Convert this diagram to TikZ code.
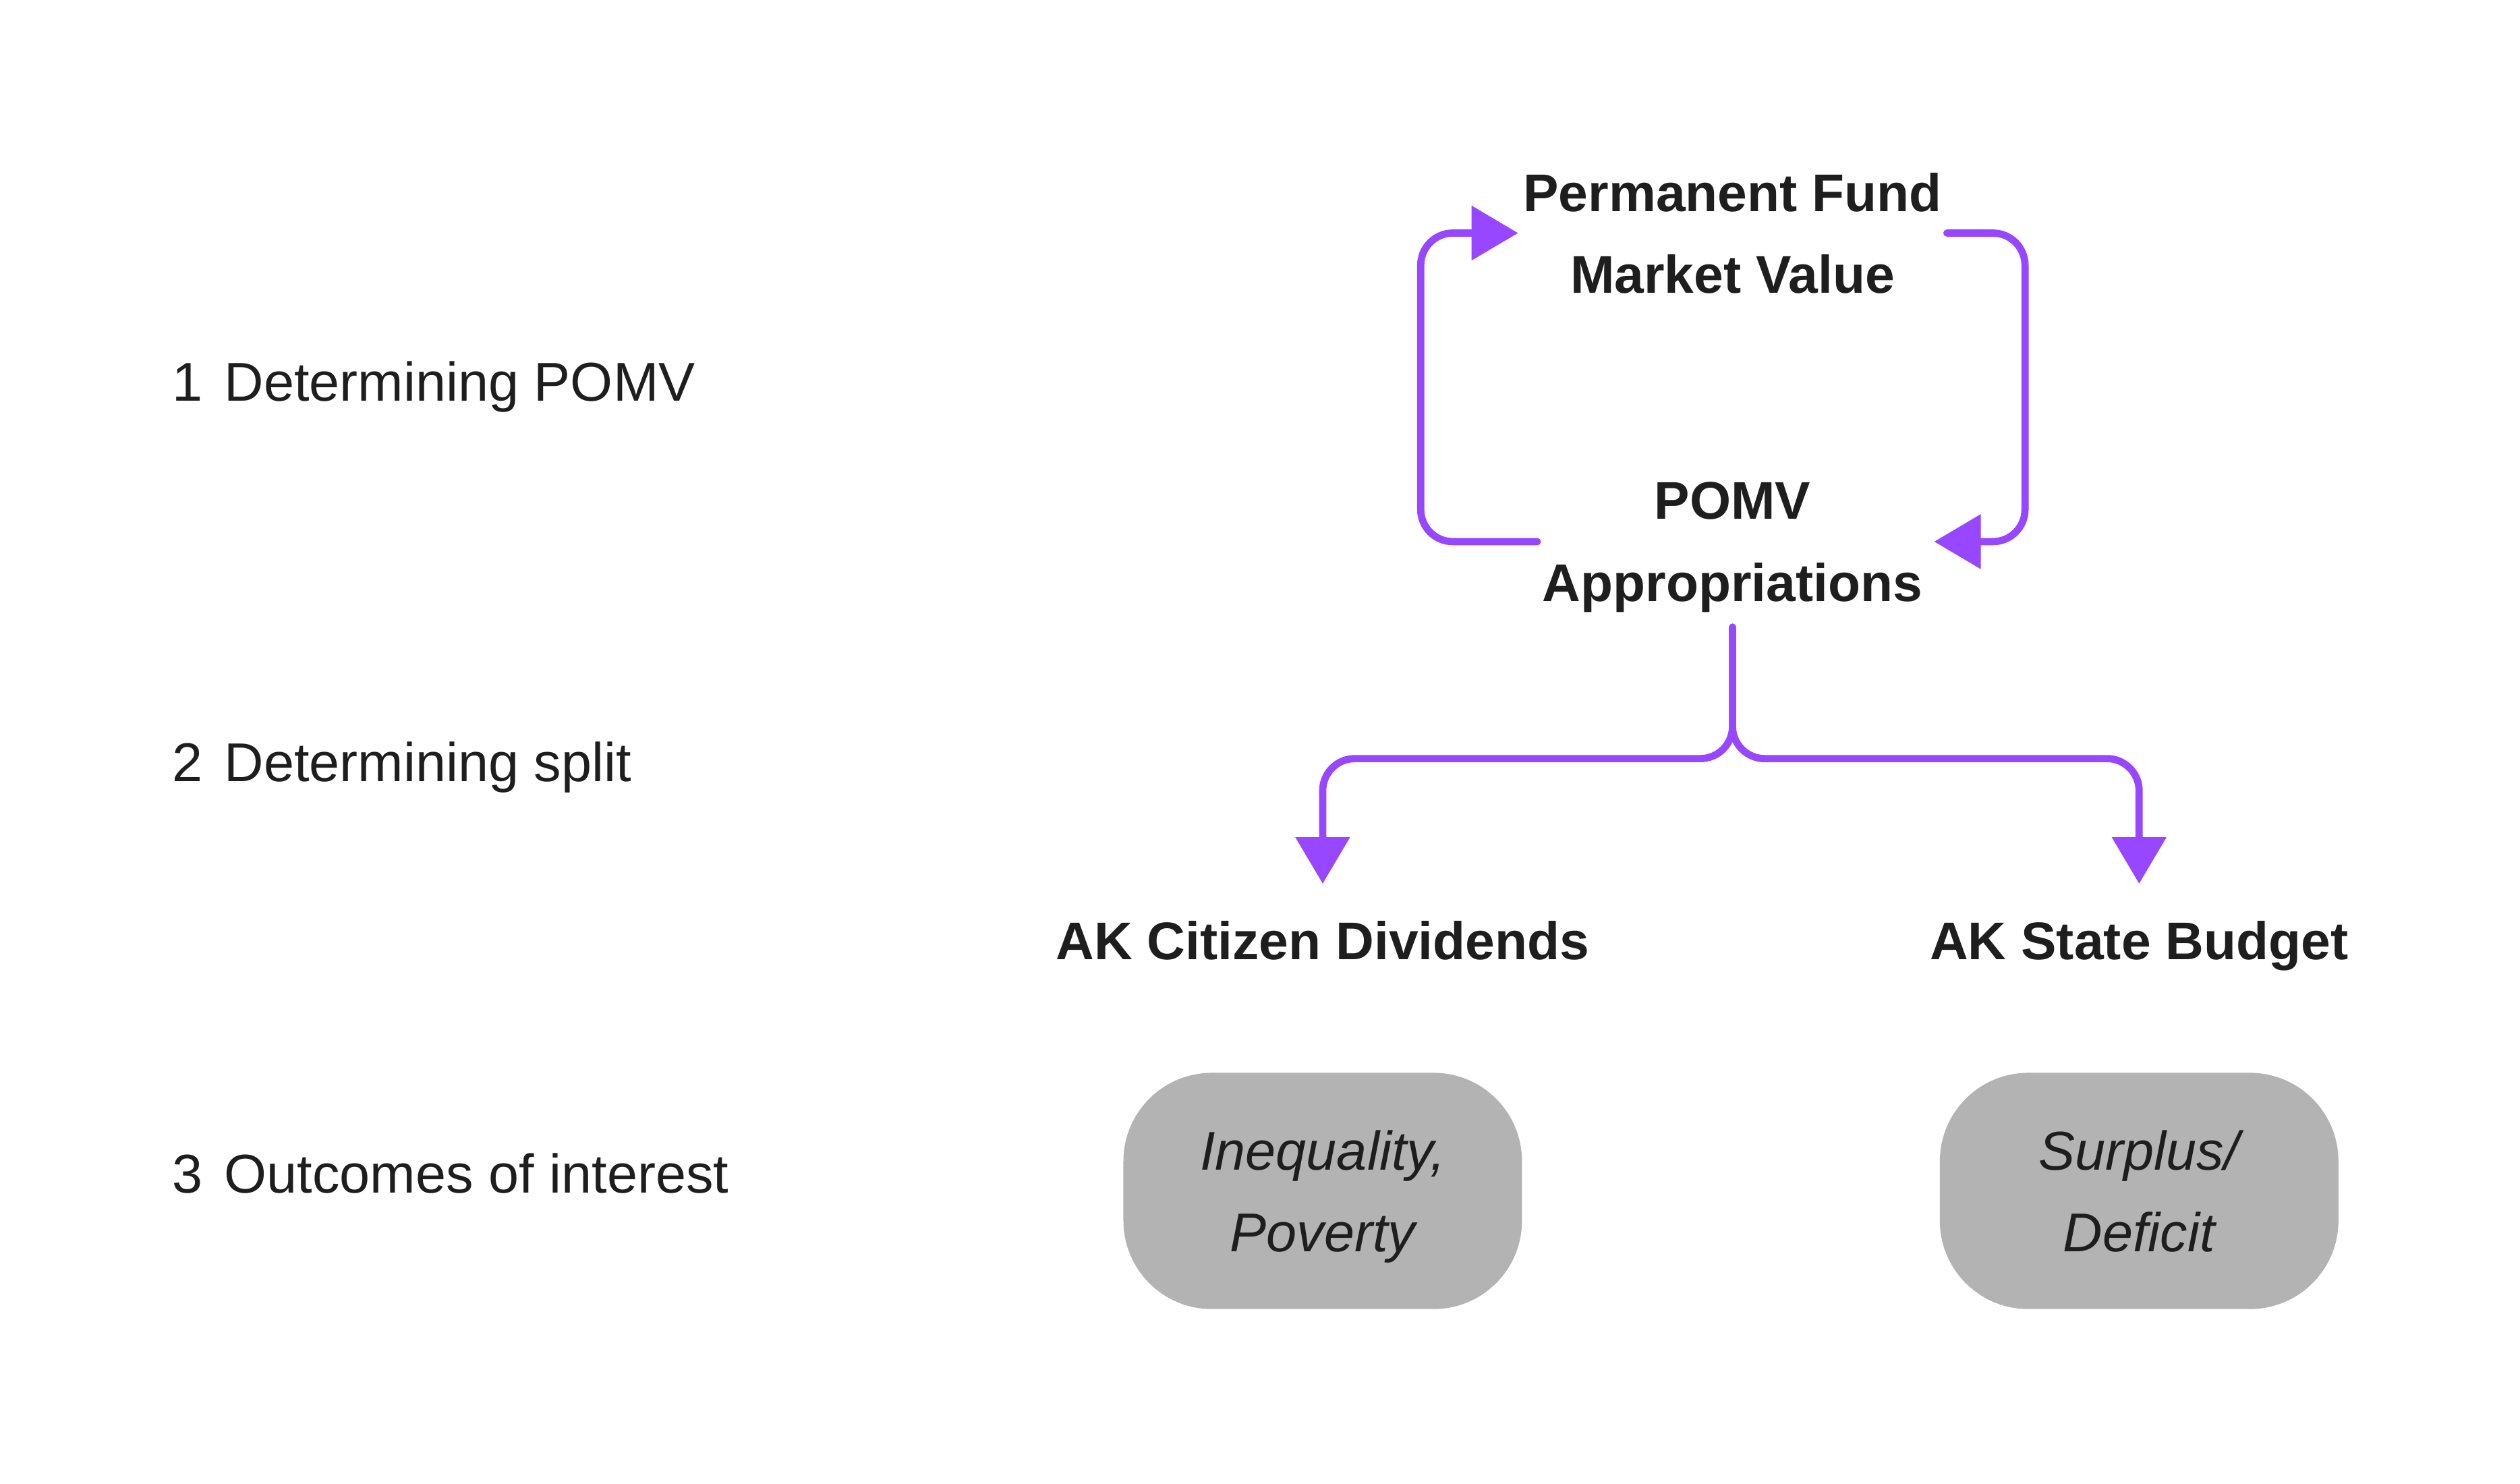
\documentclass[tikz,border=0pt]{standalone}
\usepackage{fontspec}
\setmainfont{Liberation Sans}
\usetikzlibrary{arrows.meta}

\definecolor{pomvpurple}{HTML}{9747FF}
\definecolor{inkdark}{HTML}{1E1E1E}
\definecolor{outcomegray}{HTML}{B3B3B3}

\tikzset{
  stagetext/.style={anchor=west, inner sep=0pt, text=inkdark, text depth=0pt, font=\fontsize{34}{40}\selectfont},
  flownode/.style={align=center, inner sep=3pt, text=inkdark, text depth=0pt, font=\bfseries\fontsize{33}{51}\selectfont},
  outcome/.style={fill=outcomegray, rounded corners=55pt, minimum width=248pt, minimum height=147pt,
    align=center, text=inkdark, text depth=0pt, font=\itshape\fontsize{34}{51}\selectfont},
  flow/.style={draw=pomvpurple, line width=4.5pt, line cap=round, rounded corners=20pt,
    -{Triangle[length=29pt, width=33pt]}}
}

\begin{document}
\begin{tikzpicture}[x=1pt, y=-1pt]
    \useasboundingbox (0, 0) rectangle (1568, 923); % page frame

    \foreach \num/\txt/\ypos in {1/Determining POMV/237, 2/Determining split/474, 3/Outcomes of interest/730} {
        \node[stagetext] (stage\num) at (107, \ypos) {\num\hspace{0.4em}\txt}; % stage on the left
    }

    \node[flownode] (fund) at (1078, 145) {Permanent Fund\\Market Value};
    \node[flownode] (appr) at (1078, 337) {POMV\\Appropriations};
    \node[flownode] (div) at (823, 585) {AK Citizen Dividends};
    \node[flownode] (budget) at (1331, 585) {AK State Budget};

    \node[outcome] (ineq) at (823, 741) {Inequality,\\Poverty};
    \node[outcome] (surplus) at (1331, 741) {Surplus/\\Deficit};

    \coordinate (loopL) at (884, 145);
    \coordinate (loopR) at (1260, 337);
    \coordinate (split) at (1078, 472);

    \draw[flow] (appr.west) -| (loopL) -- (fund.west); % back up to the fund
    \draw[flow, shorten >=4pt] (fund.east) -| (loopR) -- (appr.east); % down to appropriations

    \draw[flow, shorten <=13pt, shorten >=20pt] (appr.south) -- (split) -| (div.north);
    \draw[flow, shorten <=13pt, shorten >=20pt] (appr.south) -- (split) -| (budget.north);

\end{tikzpicture}
\end{document}
